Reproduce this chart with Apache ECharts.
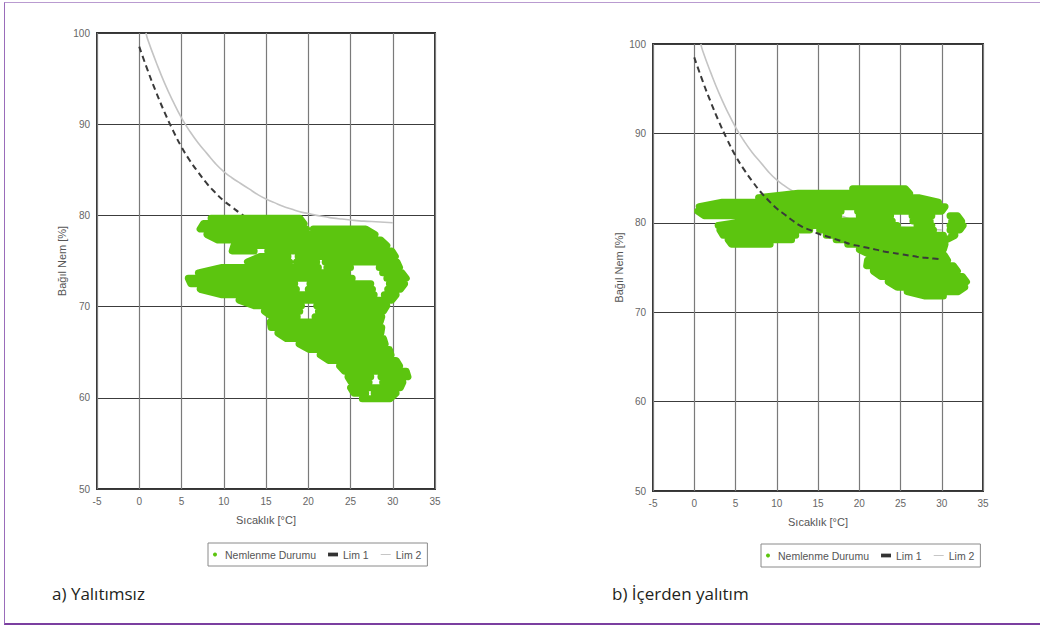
<!DOCTYPE html>
<html><head><meta charset="utf-8">
<script src="https://cdn.jsdelivr.net/npm/echarts@6/dist/echarts.min.js"></script>
<style>
html,body{margin:0;padding:0;background:#fff;}
#frame{position:absolute;left:4px;top:2px;width:1036px;height:623px;border-left:1px solid #9a6cba;border-top:1px solid #b99bd0;border-bottom:2px solid #7b3fa0;box-sizing:border-box;}
#chart{position:absolute;left:0;top:0;width:1040px;height:627px;}
</style></head><body>
<div id="frame"></div><div id="chart"></div>
<script>
// ---- axis ranges ----
const xMin = -5, xMax = 35, xStep = 5;
const yMin = 50, yMax = 100, yStep = 10;
const xAxisName = 'Sıcaklık [°C]';
const yAxisName = 'Bağıl Nem [%]';
const captions = ['a) Yalıtımsız', 'b) İçerden yalıtım'];
const legendNames = ['Nemlenme Durumu', 'Lim 1', 'Lim 2'];

// ---- limit curves (same in both charts) ----
const lim1T  = [0,1,2,3,4,5,6,7,8,9,10,11,12,13,14,15,16,17,18,19,20,21,22,23,24,25,26,27,28,29,30];
const lim1RH = [98.5,95.9,93.5,91.3,89.3,87.5,86.0,84.7,83.5,82.5,81.6,80.9,80.2,79.6,79.2,78.8,78.5,78.2,77.9,77.6,77.4,77.2,77.0,76.8,76.65,76.5,76.35,76.2,76.1,76.0,75.9];
const lim2T  = [0.8,1,2,3,4,5,6,7,8,9,10,11,12,13,14,15,16,17,18,19,20,21,22,23,24,25,26,27,28,29,30];
const lim2RH = [100,99.3,96.8,94.5,92.5,90.7,89.2,87.9,86.8,85.7,84.8,84.1,83.5,82.9,82.3,81.8,81.4,81.0,80.7,80.4,80.2,80.0,79.85,79.7,79.6,79.5,79.4,79.35,79.3,79.25,79.2];

// ---- humidity state (Nemlenme Durumu) traces, row by row: [RH, [T from, T to], ...] ----
const leftRows = [
 [79.7, [8.5, 19.0]],
 [79.1, [7.6, 19.5]],
 [78.5, [7.2, 19.8], [20.6, 26.8]],
 [77.9, [8.0, 27.9]],
 [77.3, [9.3, 28.6]],
 [76.7, [11.2, 29.3]],
 [76.1, [11.0, 13.6], [15.2, 29.9]],
 [75.5, [14.3, 17.6], [18.8, 30.3]],
 [74.9, [12.8, 17.8], [18.6, 21.0], [22.0, 30.5]],
 [74.3, [9.8, 21.2], [22.2, 25.0], [28.4, 30.8]],
 [73.7, [7.0, 24.6], [28.8, 31.1]],
 [73.1, [5.8, 22.4], [23.0, 25.2], [29.3, 31.6]],
 [72.5, [6.1, 18.4], [20.2, 27.4], [29.6, 31.4]],
 [71.9, [7.2, 18.6], [20.0, 27.6], [29.4, 30.9]],
 [71.3, [9.8, 27.8], [29.0, 30.4]],
 [70.7, [11.8, 29.9]],
 [70.1, [13.6, 19.2], [21.0, 29.3]],
 [69.5, [14.8, 19.0], [21.2, 28.9]],
 [68.9, [15.7, 18.7], [20.8, 28.7]],
 [68.3, [15.5, 28.5]],
 [67.7, [15.6, 28.7]],
 [67.1, [16.4, 28.6]],
 [66.5, [17.4, 28.9]],
 [65.9, [18.9, 29.1]],
 [65.3, [20.1, 29.6]],
 [64.7, [21.4, 29.8]],
 [64.1, [22.4, 30.4]],
 [63.5, [23.7, 30.8]],
 [62.9, [24.3, 31.6]],
 [62.3, [24.7, 27.4], [28.6, 31.8]],
 [61.7, [25.1, 27.2], [28.8, 31.2]],
 [61.1, [25.0, 30.9]],
 [60.5, [25.4, 26.8], [27.8, 30.4]],
 [59.9, [26.4, 29.7]]
];
const rightRows = [
 [83.8, [19.2, 25.6]],
 [83.3, [12.6, 26.1]],
 [82.8, [7.8, 27.2]],
 [82.3, [3.4, 29.6]],
 [81.8, [0.6, 30.4]],
 [81.3, [0.4, 17.8], [19.8, 30.0]],
 [80.8, [1.2, 17.5], [20.0, 23.8], [26.4, 28.8], [31.0, 31.9]],
 [80.2, [6.5, 24.0], [26.5, 28.6], [31.2, 32.4]],
 [79.7, [2.9, 24.6], [27.0, 28.8], [31.0, 32.6]],
 [79.2, [3.1, 14.0], [15.2, 29.0], [31.0, 32.2]],
 [78.6, [3.5, 12.3], [16.0, 30.2], [31.2, 31.6]],
 [78.1, [4.1, 11.8], [17.2, 30.6]],
 [77.6, [4.5, 9.2], [18.6, 30.4]],
 [77.0, [20.0, 30.2]],
 [76.4, [21.4, 30.3]],
 [75.8, [21.0, 30.7]],
 [75.2, [20.9, 31.4]],
 [74.6, [21.7, 31.9]],
 [74.0, [22.6, 32.5]],
 [73.4, [23.5, 33.0]],
 [72.8, [24.6, 32.8]],
 [72.3, [25.8, 32.0]],
 [71.8, [28.0, 30.2]]
];

const GREEN = '#5cc50f';
const FONT = "Arial, 'Liberation Sans', sans-serif";
const CAP_FONT = "'Open Sans', 'Noto Sans', sans-serif";

function pairs(xs, ys) { return xs.map((x, i) => [x, ys[i]]); }

// serpentine path through the rows; a hole inside a row breaks the line
function tracePath(rows) {
  const out = [];
  rows.forEach((row, i) => {
    const rh = row[0];
    let segs = row.slice(1).map(s => s.slice());
    if (i % 2 === 1) { segs = segs.reverse().map(s => [s[1], s[0]]); }
    segs.forEach((s, j) => {
      if (j > 0) out.push([null, null]);
      out.push([s[0], rh], [s[1], rh]);
    });
  });
  return out;
}

function greenSeries(rows, g) {
  return {
    type: 'line', name: legendNames[0], xAxisIndex: g, yAxisIndex: g,
    data: tracePath(rows), connectNulls: false,
    showSymbol: false, silent: true, z: 3,
    lineStyle: { color: GREEN, width: 7, cap: 'round', join: 'round' },
    itemStyle: { color: GREEN }
  };
}
function limSeries(g, lim1z) {
  return [
    { type: 'line', name: legendNames[1], xAxisIndex: g, yAxisIndex: g, data: pairs(lim1T, lim1RH),
      showSymbol: false, smooth: true, silent: true, z: lim1z,
      lineStyle: { color: '#3a3a3a', width: 2, type: [6, 4] }, itemStyle: { color: '#3a3a3a' } },
    { type: 'line', name: legendNames[2], xAxisIndex: g, yAxisIndex: g, data: pairs(lim2T, lim2RH),
      showSymbol: false, smooth: true, silent: true, z: 2,
      lineStyle: { color: '#c4c4c4', width: 1.6 }, itemStyle: { color: '#c4c4c4' } }
  ];
}

const grids = [
  { left: 97, top: 33, width: 338, height: 456 },
  { left: 653, top: 44, width: 330, height: 447 }
];
function xAx(g) {
  return { type: 'value', gridIndex: g, min: xMin, max: xMax, interval: xStep,
    name: xAxisName, nameLocation: 'middle', nameGap: 25,
    nameTextStyle: { color: '#555', fontSize: 11, fontFamily: FONT },
    axisLine: { show: false }, axisTick: { show: false },
    axisLabel: { color: '#666', fontSize: 10, margin: 7, fontFamily: FONT },
    splitLine: { show: true, lineStyle: { color: '#7a7a7a', width: 1.2 } } };
}
function yAx(g, gap) {
  return { type: 'value', gridIndex: g, min: yMin, max: yMax, interval: yStep,
    name: yAxisName, nameLocation: 'middle', nameGap: gap, nameRotate: 90,
    nameTextStyle: { color: '#555', fontSize: 11, fontFamily: FONT },
    axisLine: { show: false }, axisTick: { show: false },
    axisLabel: { color: '#666', fontSize: 10, margin: 7, fontFamily: FONT },
    splitLine: { show: true, lineStyle: { color: '#3c3c3c', width: 1 } } };
}
function legendAt(left, top) {
  return { left: left, top: top, orient: 'horizontal', padding: [6, 6, 6, 5], itemGap: 12,
    itemWidth: 10, itemHeight: 4, borderColor: '#8a8a8a', borderWidth: 1,
    textStyle: { color: '#555', fontSize: 10.5, fontFamily: FONT },
    data: [
      { name: legendNames[0], icon: 'circle', itemStyle: { color: GREEN } },
      { name: legendNames[1], icon: 'path://M0,0H8V3H0Z', itemStyle: { color: '#333' } },
      { name: legendNames[2], icon: 'path://M0,0H12V1H0Z', itemStyle: { color: '#bbb' } }
    ] };
}

const chart = echarts.init(document.getElementById('chart'), null, { renderer: 'svg' });
chart.setOption({
  animation: false,
  backgroundColor: 'transparent',
  grid: grids.map(g => Object.assign({ show: true, borderColor: '#333', borderWidth: 2, backgroundColor: '#fff' }, g)),
  xAxis: [xAx(0), xAx(1)],
  yAxis: [yAx(0, 30), yAx(1, 29)],
  legend: [legendAt(208, 543), legendAt(761, 544)],
  graphic: [
    { type: 'text', left: 52, top: 585, style: { text: captions[0], fill: '#231f20', fontSize: 17, fontFamily: CAP_FONT } },
    { type: 'text', left: 612, top: 585, style: { text: captions[1], fill: '#231f20', fontSize: 17, fontFamily: CAP_FONT } }
  ],
  series: [].concat(limSeries(0, 2), [greenSeries(leftRows, 0)], limSeries(1, 4), [greenSeries(rightRows, 1)])
});
</script></body></html>
